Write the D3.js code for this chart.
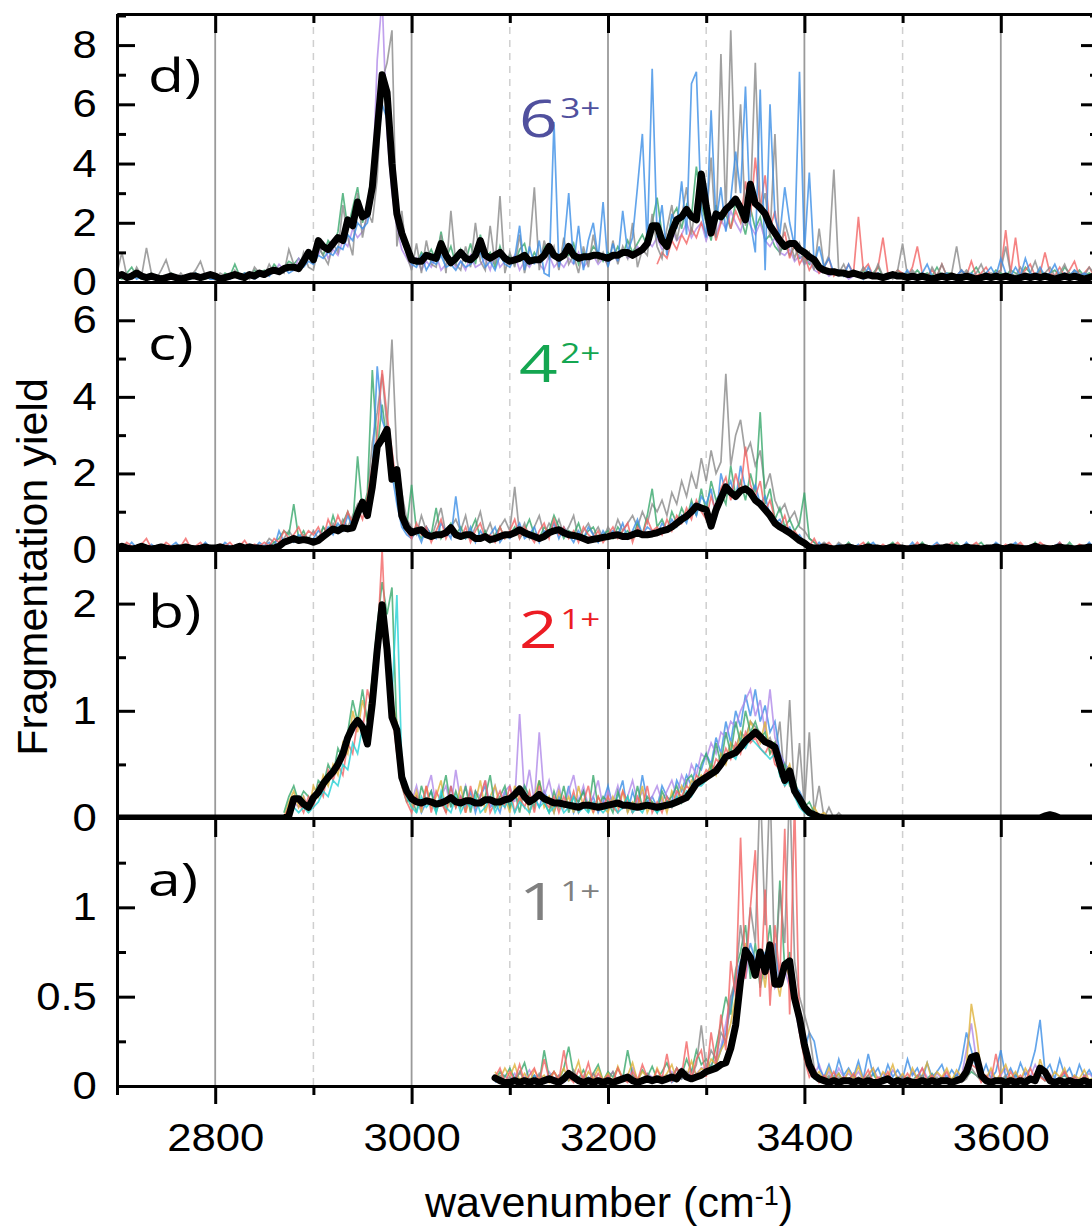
<!DOCTYPE html>
<html>
<head>
<meta charset="utf-8">
<script src="https://cdn.jsdelivr.net/npm/d3@7"></script>
<style>
  body { margin: 0; background: #fff; }
  text { font-family: "Liberation Sans", Arial, sans-serif; }
</style>
</head>
<body>
<script>
// sampling step of every series (cm-1)
var step = 5;

// ---- panel d) 6(3+), all series start at 2700 ----
var dBlack = [
  0.2,0.25,0.15,0.2,0.3,0.2,0.15,0.2,0.15,0.1,
  0.15,0.2,0.15,0.1,0.15,0.2,0.2,0.15,0.2,0.25,
  0.2,0.1,0.15,0.2,0.25,0.2,0.15,0.25,0.2,0.3,
  0.25,0.35,0.4,0.35,0.45,0.5,0.5,0.45,0.7,1.0,
  0.75,1.4,1.2,1.1,1.3,1.5,1.4,2.1,1.9,2.7,
  2.2,2.3,3.2,5.1,7.0,6.4,4.0,2.3,1.65,1.2,
  0.75,0.7,0.7,0.9,0.85,0.8,1.3,0.9,0.65,0.8,
  1.0,0.8,0.75,0.9,1.4,0.9,0.8,0.9,1.0,0.8,
  0.7,0.75,0.8,0.9,0.7,0.75,0.75,0.9,1.2,0.9,
  0.8,0.9,1.2,0.9,0.8,0.85,0.85,0.9,0.9,0.85,
  0.8,0.9,0.9,1.0,1.0,0.9,1.0,1.1,1.3,1.9,
  1.9,1.4,1.2,1.7,2.1,2.2,2.45,2.2,2.1,3.65,
  2.55,1.65,2.3,2.2,2.45,2.6,2.8,2.5,2.1,3.3,
  2.65,2.5,2.3,1.9,1.65,1.4,1.2,1.3,1.3,1.1,
  1.0,0.85,0.75,0.5,0.4,0.35,0.35,0.3,0.3,0.25,
  0.3,0.25,0.2,0.25,0.2,0.2,0.15,0.2,0.25,0.2,
  0.2,0.15,0.2,0.15,0.2,0.15,0.1,0.15,0.2,0.15,
  0.2,0.15,0.15,0.2,0.15,0.1,0.15,0.2,0.15,0.2,
  0.15,0.2,0.15,0.1,0.15,0.2,0.15,0.2,0.15,0.2,
  0.15,0.1,0.15,0.2,0.15,0.2,0.15,0.1,0.15,0.2,
  0.15];
var dGray = [
  0.3,1.0,0.2,0.1,0.5,0.2,1.15,0.3,0.1,0.4,
  0.75,0.2,0.1,0.3,0.1,0.2,0.4,0.7,0.2,0.1,
  0.1,0.3,0.2,0.1,0.4,0.2,0.3,0.1,0.5,0.3,
  0.2,0.6,0.3,0.4,0.3,1.1,0.6,0.4,1.0,0.5,
  0.4,1.2,0.9,0.6,1.3,1.0,2.6,1.5,0.9,3.0,
  1.5,2.4,2.0,3.5,6.8,7.4,8.5,1.2,2.4,0.9,
  0.4,1.3,0.3,1.4,0.6,0.5,1.6,0.3,2.4,0.6,
  0.4,1.2,0.5,2.0,0.7,0.4,1.9,0.6,2.9,0.3,
  1.0,0.5,1.6,0.3,1.1,3.2,0.4,1.4,0.8,1.2,
  0.4,1.5,0.6,0.9,0.3,1.2,0.5,1.6,0.7,1.0,
  0.5,1.4,0.6,1.2,0.8,2.0,0.5,1.1,0.9,2.3,
  1.2,0.8,1.8,2.6,1.4,2.2,3.2,1.6,2.8,3.0,
  2.0,4.2,1.5,7.7,2.2,8.5,3.0,6.0,1.9,2.6,
  7.4,2.4,3.0,1.5,5.0,0.9,2.0,1.4,0.8,1.3,
  0.6,1.0,0.4,1.8,0.5,0.9,3.8,0.3,0.6,0.2,
  0.4,0.2,0.5,0.3,0.2,0.6,0.2,0.3,0.1,0.4,
  1.3,0.2,0.4,0.2,0.3,0.1,0.5,0.2,0.6,0.2,
  0.3,1.2,0.2,0.4,0.2,0.3,0.6,0.2,0.3,0.2,
  0.4,1.2,0.3,0.2,0.5,0.2,0.3,0.7,0.2,0.3,
  0.5,0.2,0.3,0.6,0.2,0.4,0.3,0.2,0.5,0.3,
  0.2];
var dBlue = [
  0.1,0.2,0.1,0.3,0.1,0.2,0.1,0.1,0.2,0.1,
  0.2,0.1,0.1,0.2,0.1,0.1,0.3,0.1,0.2,0.1,
  0.1,0.2,0.1,0.1,0.2,0.1,0.3,0.2,0.1,0.2,
  0.3,0.2,0.4,0.3,0.5,0.3,0.4,0.6,0.5,0.7,
  0.6,0.9,0.8,1.0,0.9,1.2,1.1,1.6,1.4,2.0,
  1.8,2.0,2.8,4.5,6.0,5.5,3.5,2.0,1.4,1.0,
  0.6,0.5,0.9,0.4,0.7,0.6,0.9,0.5,0.6,0.4,
  0.7,0.5,0.6,0.8,1.0,0.5,0.7,0.4,0.9,0.6,
  0.5,0.8,1.9,0.4,1.2,0.6,1.4,0.3,0.2,5.4,
  0.5,1.2,3.0,0.6,1.9,0.4,1.4,2.0,0.8,2.7,
  0.5,1.3,0.7,2.4,1.0,1.5,3.2,5.0,1.2,7.2,
  1.5,2.6,0.9,2.3,1.8,3.4,1.6,6.7,7.1,2.4,
  1.5,5.8,2.0,3.2,1.7,2.8,4.4,3.0,6.6,2.0,
  1.0,6.5,0.4,6.0,2.2,1.6,3.2,2.0,1.2,7.1,
  1.0,3.7,0.6,1.2,0.5,0.8,0.3,0.4,0.2,0.6,
  0.2,0.3,0.1,0.5,0.2,0.3,0.2,0.1,0.3,0.2,
  0.2,0.4,0.1,0.2,0.3,0.6,0.2,0.1,0.2,0.3,
  0.1,0.2,0.4,0.2,0.3,0.1,0.2,0.3,0.5,0.2,
  0.8,0.3,0.2,0.5,0.2,0.8,0.3,0.2,0.5,0.2,
  0.3,0.6,0.2,0.3,0.2,0.4,0.2,0.3,0.2,0.3,
  0.2];
var dGreen = [
  0.2,0.1,0.3,0.5,0.2,0.1,0.2,0.3,0.1,0.2,
  0.1,0.3,0.2,0.1,0.2,0.1,0.3,0.2,0.1,0.2,
  0.2,0.1,0.3,0.2,0.6,0.2,0.3,0.2,0.4,0.3,
  0.4,0.3,0.6,0.4,0.5,0.7,0.6,0.8,0.6,0.9,
  1.0,1.2,0.9,1.4,1.2,1.7,3.0,1.8,2.5,3.2,
  2.0,2.6,3.8,5.8,6.4,6.0,4.2,2.4,1.7,1.3,
  0.9,0.6,1.0,0.8,1.1,0.7,1.7,0.8,1.2,0.6,
  1.1,0.7,1.3,0.6,1.6,0.8,1.0,0.5,1.2,0.7,
  0.9,0.6,1.1,1.3,0.6,1.0,0.7,1.2,0.8,1.0,
  0.7,1.1,0.9,1.3,0.6,1.0,0.8,1.2,1.0,0.7,
  1.0,0.8,1.2,0.9,1.4,1.0,1.3,1.6,1.2,2.0,
  2.85,1.6,1.3,2.2,2.5,1.8,2.6,2.2,3.9,2.6,
  2.0,1.4,2.6,2.0,2.3,1.8,2.7,2.2,1.6,2.5,
  1.8,2.2,1.4,1.6,1.2,1.0,1.3,0.9,1.2,0.8,
  0.9,0.6,0.8,0.4,0.5,0.3,0.4,0.2,0.3,0.2,
  0.3,0.2,0.4,0.2,0.3,0.5,0.2,0.3,0.2,0.4,
  0.2,0.3,0.2,0.4,0.2,0.3,0.2,0.5,0.2,0.3,
  0.3,0.2,0.4,0.2,0.3,0.5,0.2,0.3,0.2,0.4,
  0.3,0.2,0.4,0.3,0.2,0.5,0.3,0.2,0.4,0.2,
  0.3,0.4,0.2,0.5,0.3,0.2,0.4,0.2,0.3,0.2,
  0.3];
// starts at 2850
var dPurple = [
  0.2,0.4,0.3,0.6,0.4,0.5,0.4,0.8,0.6,1.0,
  0.7,0.9,1.3,0.8,1.1,0.9,1.4,1.2,1.8,1.5,
  1.7,2.2,3.0,7.5,9.6,5.0,3.0,1.8,1.1,0.8,
  0.5,0.8,0.4,0.7,0.5,0.9,0.4,0.6,0.8,0.5,
  0.7,0.4,0.9,0.5,0.6,0.8,0.4,1.0,0.5,0.7,
  0.6,0.9,0.4,0.7,0.5,0.8,0.6,0.4,0.9,0.5,
  0.7,0.5,0.8,0.6,1.0,0.5,0.7,0.9,0.6,0.8,
  0.6,0.9,0.7,1.1,0.8,0.9,1.2,1.0,1.4,1.2,
  1.5,1.1,1.3,1.8,1.4,1.6,2.0,1.5,1.8,2.0,
  1.4,1.9,1.6,2.1,1.8,2.4,2.0,1.7,2.3,1.9,
  1.6,2.0,1.4,1.2,1.5,1.0,0.9,1.1,0.7,0.9,
  0.6,0.7,0.4,0.3,0.4,0.2,0.3,0.2,0.3,0.1,
  0.2];
// starts at 3250
var dRed = [
  0.6,1.0,0.8,1.4,1.1,1.6,1.3,1.8,1.5,2.0,
  1.6,2.2,1.4,2.0,2.6,1.8,2.4,2.0,3.4,2.2,
  4.2,2.5,3.6,1.8,2.4,1.2,1.7,0.8,1.3,0.6,
  0.9,0.4,0.7,0.3,0.5,0.8,0.2,0.4,0.3,0.6,
  0.3,2.2,0.4,0.6,0.2,0.5,1.5,0.3,0.2,0.4,
  0.3,0.2,0.5,1.2,0.3,0.2,0.4,0.2,0.6,0.2,
  0.3,0.2,0.4,0.2,0.7,0.2,0.3,0.5,0.2,0.3,
  0.4,1.75,0.3,1.5,0.2,0.4,0.6,0.2,0.3,1.0,
  0.3,0.2,0.5,0.2,0.4,0.7,0.2,0.3,0.5,0.2,
  0.3];

// ---- panel c) 4(2+), start at 2700 ----
var cBlack = [
  0.05,0.1,0.05,0.03,0.05,0.1,0.05,0.03,0.05,0.08,
  0.05,0.03,0.05,0.05,0.08,0.05,0.03,0.05,0.08,0.05,
  0.05,0.08,0.05,0.03,0.05,0.1,0.05,0.08,0.05,0.05,
  0.03,0.05,0.05,0.1,0.2,0.25,0.3,0.25,0.27,0.25,
  0.2,0.25,0.35,0.45,0.55,0.5,0.58,0.55,0.58,0.95,
  1.25,0.9,1.65,2.7,2.9,3.15,1.85,2.1,0.9,0.6,
  0.45,0.5,0.53,0.4,0.35,0.4,0.4,0.45,0.58,0.4,
  0.35,0.4,0.4,0.3,0.3,0.35,0.27,0.3,0.35,0.4,
  0.4,0.45,0.53,0.45,0.4,0.35,0.3,0.35,0.45,0.5,
  0.53,0.45,0.4,0.38,0.35,0.3,0.25,0.28,0.3,0.33,
  0.35,0.38,0.4,0.35,0.35,0.4,0.45,0.4,0.4,0.42,
  0.45,0.5,0.53,0.6,0.7,0.8,0.88,1.0,1.15,1.1,
  1.05,0.62,1.05,1.35,1.65,1.5,1.4,1.55,1.6,1.5,
  1.3,1.2,1.05,0.9,0.7,0.6,0.53,0.45,0.35,0.25,
  0.18,0.08,0.05,0.05,0.08,0.05,0.03,0.05,0.05,0.08,
  0.05,0.03,0.05,0.08,0.05,0.05,0.03,0.05,0.08,0.05,
  0.05,0.03,0.05,0.05,0.08,0.05,0.03,0.05,0.05,0.08,
  0.05,0.05,0.03,0.08,0.05,0.05,0.03,0.05,0.05,0.08,
  0.05,0.03,0.08,0.05,0.05,0.03,0.05,0.1,0.05,0.05,
  0.03,0.05,0.08,0.05,0.05,0.03,0.05,0.05,0.08,0.05,
  0.05];
var cRed = [
  0.1,0.05,0.2,0.1,0.05,0.15,0.3,0.05,0.1,0.05,
  0.2,0.1,0.05,0.1,0.3,0.05,0.1,0.2,0.05,0.1,
  0.05,0.15,0.1,0.2,0.05,0.1,0.25,0.05,0.15,0.1,
  0.2,0.1,0.3,0.2,0.5,0.3,0.4,0.6,0.3,0.5,
  0.4,0.6,0.3,0.8,0.5,0.9,0.6,1.0,0.7,1.1,
  0.8,1.4,2.2,3.0,4.7,3.5,2.6,1.6,0.8,0.5,
  0.3,0.7,0.4,0.6,0.2,0.5,0.8,0.3,0.6,0.4,
  0.3,0.6,0.2,0.5,0.7,0.3,0.4,0.2,0.6,0.3,
  0.5,0.8,0.3,0.6,0.4,0.2,0.5,0.7,0.3,0.8,
  0.4,0.6,0.3,0.5,0.2,0.6,0.4,0.3,0.5,0.2,
  0.4,0.6,0.3,0.5,0.7,0.2,0.6,0.4,0.8,0.5,
  0.6,0.4,0.8,0.5,0.9,0.7,1.1,0.8,1.3,1.0,
  0.8,1.4,1.0,1.6,1.9,1.3,2.0,1.5,2.7,1.7,
  1.4,1.8,1.0,1.3,0.8,0.6,0.9,0.4,0.5,0.3,
  0.2,0.1,0.3,0.05,0.1,0.2,0.05,0.1,0.05,0.15,
  0.05,0.1,0.2,0.05,0.1,0.05,0.15,0.05,0.1,0.2,
  0.05,0.1,0.05,0.2,0.05,0.1,0.05,0.15,0.05,0.1,
  0.2,0.05,0.1,0.05,0.1,0.2,0.05,0.1,0.05,0.1,
  0.05,0.15,0.05,0.1,0.2,0.05,0.1,0.05,0.2,0.1,
  0.1,0.05,0.2,0.05,0.1,0.05,0.15,0.1,0.05,0.1,
  0.05];
var cBlue = [
  0.05,0.1,0.05,0.2,0.05,0.1,0.05,0.15,0.05,0.1,
  0.05,0.1,0.2,0.05,0.1,0.05,0.1,0.05,0.2,0.05,
  0.1,0.05,0.2,0.1,0.05,0.1,0.05,0.15,0.05,0.2,
  0.1,0.2,0.05,0.5,0.2,0.3,0.2,0.4,0.3,0.2,
  0.3,0.5,0.4,0.6,0.4,0.7,0.5,0.9,0.6,1.0,
  1.2,0.9,2.0,4.8,3.4,3.0,2.0,1.2,0.6,0.4,
  0.3,0.5,0.2,0.6,0.4,0.3,0.7,0.5,0.3,1.4,
  0.4,0.3,0.6,0.2,0.5,0.3,0.4,0.6,0.2,0.4,
  0.3,0.5,0.7,0.3,0.4,0.6,0.2,0.5,0.4,0.7,
  0.3,0.6,0.4,0.2,0.5,0.3,0.6,0.4,0.2,0.5,
  0.3,0.5,0.4,0.7,0.3,0.5,0.8,0.4,0.6,0.5,
  0.4,0.7,0.5,0.8,0.6,0.9,0.7,1.2,0.9,1.4,
  1.2,1.6,0.8,2.0,1.5,1.8,1.3,2.2,1.6,1.4,
  1.7,1.2,1.4,0.9,0.7,0.8,0.5,0.6,0.3,0.4,
  0.2,0.1,0.05,0.2,0.05,0.1,0.05,0.15,0.05,0.1,
  0.05,0.15,0.05,0.1,0.2,0.05,0.1,0.05,0.1,0.05,
  0.1,0.05,0.2,0.05,0.1,0.05,0.1,0.2,0.05,0.1,
  0.05,0.1,0.05,0.2,0.05,0.1,0.05,0.1,0.05,0.2,
  0.1,0.05,0.1,0.2,0.05,0.1,0.05,0.15,0.05,0.1,
  0.05,0.1,0.2,0.05,0.1,0.05,0.1,0.05,0.2,0.05,
  0.1];
var cGreen = [
  0.05,0.1,0.05,0.05,0.1,0.05,0.1,0.05,0.05,0.1,
  0.05,0.05,0.1,0.05,0.1,0.05,0.05,0.1,0.05,0.05,
  0.1,0.05,0.05,0.1,0.05,0.1,0.05,0.1,0.05,0.1,
  0.05,0.1,0.2,0.3,0.5,0.4,1.2,0.3,0.5,0.2,
  0.3,0.2,0.6,0.4,0.9,0.5,0.7,1.0,0.6,2.45,
  1.0,1.5,4.7,2.6,3.8,2.8,2.2,1.5,0.9,0.6,
  1.7,0.5,0.3,0.6,0.4,1.1,0.3,0.5,0.7,0.4,
  0.6,0.3,0.5,0.8,0.3,0.5,0.2,0.4,0.6,0.3,
  0.4,0.6,0.3,0.5,0.8,0.4,0.3,0.6,0.5,0.9,
  0.6,0.3,0.5,0.4,0.7,0.3,0.5,0.6,0.3,0.4,
  0.5,0.3,0.6,0.4,0.5,0.3,0.7,0.4,0.9,1.6,
  0.6,0.8,0.5,1.0,0.7,1.1,0.8,1.3,0.9,1.6,
  1.0,1.8,1.3,1.5,1.2,2.2,1.4,1.8,1.3,2.0,
  1.5,3.6,1.2,1.6,0.8,1.1,0.6,0.8,0.5,0.7,
  1.5,0.3,0.2,0.1,0.05,0.1,0.05,0.1,0.05,0.2,
  0.05,0.1,0.05,0.2,0.05,0.1,0.05,0.1,0.2,0.05,
  0.1,0.05,0.1,0.05,0.2,0.05,0.1,0.05,0.1,0.05,
  0.1,0.2,0.05,0.1,0.05,0.1,0.2,0.05,0.1,0.05,
  0.05,0.1,0.05,0.15,0.05,0.1,0.05,0.2,0.05,0.1,
  0.1,0.05,0.1,0.05,0.2,0.05,0.1,0.05,0.1,0.05,
  0.1];
// starts at 2850
var cGray = [
  0.1,0.3,0.2,0.1,0.3,0.5,0.3,0.2,0.4,0.3,
  0.5,0.3,0.6,0.4,0.7,0.5,0.8,0.6,0.9,1.2,
  1.0,1.4,2.8,3.6,4.6,3.2,5.5,2.4,1.5,0.8,
  0.6,0.4,0.9,0.5,0.3,0.7,1.1,0.4,0.6,0.8,
  0.5,0.9,0.3,0.6,1.0,0.4,0.7,0.3,0.6,0.8,
  0.5,1.65,0.4,0.7,0.3,0.6,0.9,0.4,0.7,0.5,
  0.8,0.4,0.6,0.9,0.3,0.5,0.7,0.4,0.6,0.3,
  0.6,0.4,0.8,0.5,0.7,0.9,0.6,1.0,0.7,1.2,
  1.0,1.3,0.9,1.5,1.2,1.8,1.4,2.0,1.6,2.4,
  1.8,2.6,2.0,2.3,4.6,2.2,3.0,3.4,2.5,2.8,
  2.2,2.6,1.6,2.0,1.3,1.0,1.2,0.8,1.0,0.6,
  0.5,0.3,0.2,0.1,0.2,0.1,0.05,0.2,0.1,0.05,
  0.1];

// ---- panel b) 2(1+) ----
// black starts at 2700
var bBlack = [
  0,0,0,0,0,0,0,0,0,0,
  0,0,0,0,0,0,0,0,0,0,
  0,0,0,0,0,0,0,0,0,0,
  0,0,0,0,0,0.02,0.18,0.18,0.13,0.1,
  0.19,0.24,0.32,0.38,0.43,0.5,0.6,0.75,0.85,0.91,
  0.85,0.69,1.07,1.57,1.99,1.57,0.94,0.82,0.38,0.25,
  0.18,0.15,0.14,0.16,0.15,0.13,0.14,0.16,0.19,0.15,
  0.14,0.16,0.16,0.14,0.14,0.17,0.17,0.15,0.15,0.17,
  0.18,0.22,0.27,0.2,0.15,0.18,0.22,0.18,0.16,0.14,
  0.14,0.13,0.12,0.11,0.1,0.12,0.12,0.11,0.1,0.11,
  0.12,0.13,0.14,0.12,0.12,0.11,0.1,0.11,0.12,0.11,
  0.1,0.11,0.12,0.13,0.15,0.17,0.19,0.25,0.32,0.35,
  0.38,0.41,0.44,0.5,0.57,0.59,0.61,0.66,0.72,0.76,
  0.8,0.76,0.71,0.69,0.66,0.5,0.35,0.44,0.25,0.18,
  0.1,0.05,0.03,0.01,0,0,0,0,0,0,
  0,0,0,0,0,0,0,0,0,0,
  0,0,0,0,0,0,0,0,0,0,
  0,0,0,0,0,0,0,0,0,0,
  0,0,0,0,0,0,0,0,0,0.02,
  0.03,0.02,0,0,0,0,0,0,0,0,
  0];
// coloured scans start at 2870
var bGold = [
  0.0,0.15,0.25,0.1,0.2,0.05,
  0.3,0.2,0.4,0.3,0.5,0.4,0.7,0.6,1.0,0.8,
  1.1,0.9,1.3,1.6,1.8,1.4,1.1,0.9,0.4,0.2,
  0.1,0.25,0.05,0.3,0.1,0.2,0.35,0.05,0.2,0.1,
  0.3,0.05,0.2,0.15,0.35,0.05,0.2,0.3,0.1,0.2,
  0.05,0.3,0.15,0.25,0.05,0.2,0.35,0.1,0.2,0.05,
  0.25,0.1,0.2,0.05,0.3,0.1,0.15,0.05,0.2,0.1,
  0.05,0.2,0.1,0.25,0.05,0.15,0.1,0.3,0.05,0.15,
  0.1,0.2,0.05,0.25,0.15,0.3,0.2,0.35,0.3,0.4,
  0.35,0.5,0.4,0.6,0.5,0.7,0.6,0.8,0.7,0.9,
  0.8,0.7,0.9,0.6,0.7,0.5,0.4,0.5,0.3,0.2,
  0.15,0.05,0.1,0.02,0.05,0.0,0.02,0.0,0.0,0.0,
  0.0,0.0,0.0,0.0,0.0];
var bGreen = [
  0.05,0.2,0.3,0.15,0.25,0.2,
  0.15,0.35,0.3,0.5,0.4,0.65,0.55,0.8,1.1,0.9,
  1.2,0.9,1.3,1.8,2.2,1.9,2.15,0.8,0.3,0.15,
  0.2,0.05,0.3,0.15,0.25,0.05,0.2,0.4,0.1,0.25,
  0.1,0.3,0.05,0.25,0.15,0.2,0.4,0.1,0.2,0.3,
  0.1,0.25,0.05,0.3,0.2,0.1,0.35,0.15,0.05,0.25,
  0.1,0.3,0.05,0.2,0.15,0.25,0.05,0.4,0.1,0.2,
  0.15,0.05,0.25,0.1,0.2,0.05,0.3,0.1,0.2,0.15,
  0.05,0.25,0.15,0.2,0.3,0.15,0.35,0.4,0.3,0.5,
  0.6,0.45,0.7,0.5,0.8,0.6,0.9,0.7,1.0,0.8,
  0.9,0.75,0.8,0.6,0.7,0.4,0.5,0.3,0.35,0.2,
  0.1,0.15,0.05,0.02,0.0,0.0,0.0,0.0,0.0,0.0,
  0.0,0.0,0.0,0.0,0.0];
var bRed = [
  0.0,0.1,0.2,0.15,0.05,0.2,
  0.1,0.3,0.2,0.45,0.35,0.5,0.4,0.7,0.6,0.9,
  0.8,1.2,1.0,1.6,2.5,1.4,1.0,0.6,0.3,0.15,
  0.05,0.2,0.1,0.3,0.05,0.25,0.15,0.05,0.3,0.1,
  0.2,0.05,0.3,0.1,0.2,0.35,0.05,0.15,0.25,0.1,
  0.3,0.05,0.2,0.1,0.25,0.05,0.3,0.15,0.1,0.2,
  0.05,0.2,0.1,0.25,0.05,0.15,0.3,0.05,0.2,0.1,
  0.2,0.1,0.05,0.25,0.15,0.05,0.2,0.1,0.3,0.05,
  0.15,0.05,0.2,0.1,0.25,0.2,0.3,0.25,0.4,0.35,
  0.45,0.4,0.55,0.5,0.65,0.55,0.7,0.6,0.8,0.7,
  0.75,0.65,0.6,0.7,0.5,0.45,0.3,0.4,0.2,0.15,
  0.1,0.05,0.02,0.0,0.0,0.0,0.0,0.0,0.0,0.0,
  0.0,0.0,0.0,0.0,0.0];
var bCyan = [
  0.0,0.05,0.1,0.05,0.1,0.05,
  0.1,0.15,0.25,0.2,0.35,0.3,0.5,0.45,0.7,0.6,
  0.85,0.7,1.0,1.5,1.9,1.6,1.1,2.08,0.5,0.2,
  0.1,0.05,0.2,0.1,0.15,0.05,0.25,0.1,0.05,0.2,
  0.05,0.15,0.1,0.2,0.05,0.1,0.2,0.05,0.15,0.1,
  0.2,0.05,0.15,0.1,0.05,0.2,0.1,0.15,0.05,0.1,
  0.15,0.05,0.1,0.2,0.05,0.1,0.05,0.15,0.1,0.05,
  0.1,0.15,0.05,0.1,0.2,0.05,0.1,0.05,0.15,0.1,
  0.05,0.1,0.15,0.1,0.2,0.15,0.25,0.2,0.3,0.3,
  0.35,0.4,0.45,0.5,0.55,0.6,0.55,0.7,0.65,0.75,
  0.7,0.65,0.6,0.55,0.6,0.4,0.3,0.35,0.2,0.1,
  0.05,0.02,0.0,0.0,0.0,0.0,0.0,0.0,0.0,0.0,
  0.0,0.0,0.0,0.0,0.0];
var bPurple = [
  0.0,0.1,0.15,0.1,0.2,0.1,
  0.2,0.25,0.3,0.4,0.45,0.55,0.6,0.7,0.8,0.85,
  0.9,0.8,1.1,1.5,1.8,1.5,1.0,0.7,0.35,0.2,
  0.15,0.3,0.1,0.25,0.4,0.1,0.2,0.3,0.1,0.45,
  0.15,0.3,0.1,0.25,0.2,0.35,0.1,0.3,0.15,0.25,
  0.3,0.15,0.97,0.2,0.45,0.15,0.8,0.2,0.35,0.15,
  0.3,0.1,0.25,0.4,0.15,0.3,0.1,0.2,0.35,0.1,
  0.25,0.15,0.3,0.1,0.2,0.35,0.15,0.25,0.1,0.2,
  0.3,0.15,0.25,0.35,0.2,0.4,0.3,0.5,0.4,0.6,
  0.55,0.7,0.6,0.8,0.75,0.9,0.85,1.0,1.1,1.2,
  0.95,1.1,0.8,1.2,0.75,0.6,0.5,0.4,0.3,0.2,
  0.1,0.05,0.02,0.0,0.0,0.0,0.0,0.0,0.0,0.0,
  0.0,0.0,0.0,0.0,0.0];
// starts at 3000
var bBlue = [
  0.1,0.2,0.05,0.15,0.25,0.1,0.2,0.05,0.3,0.1,
  0.2,0.1,0.25,0.05,0.2,0.3,0.1,0.15,0.05,0.25,
  0.1,0.2,0.15,0.3,0.05,0.2,0.1,0.25,0.15,0.05,
  0.2,0.1,0.3,0.05,0.15,0.25,0.1,0.2,0.05,0.15,
  0.3,0.1,0.2,0.35,0.05,0.25,0.1,0.4,0.15,0.2,
  0.1,0.3,0.2,0.15,0.35,0.25,0.4,0.3,0.5,0.45,
  0.6,0.5,0.75,0.6,0.9,0.7,1.0,0.85,1.15,0.95,
  1.2,0.9,1.05,0.8,0.9,0.6,0.5,0.45,0.3,0.25,
  0.15,0.05,0.02,0.0,0.0];
// starts at 3300
var bGray = [
  0.4,0.5,0.45,0.6,0.55,0.7,0.65,0.8,0.75,0.9,
  0.85,0.8,0.7,0.75,0.6,0.9,0.3,1.1,0.2,0.7,
  0.1,0.8,0.05,0.3,0.0,0.1,0.0,0.05,0.0];

// ---- panel a) 1(1+), all series start at 3085 ----
var aBlack = [
  0.045,0.03,0.02,
  0.02,0.03,0.02,0.03,0.02,0.03,0.02,0.03,0.04,0.03,
  0.02,0.04,0.07,0.05,0.03,0.02,0.03,0.02,0.03,0.02,
  0.03,0.02,0.03,0.04,0.05,0.03,0.02,0.03,0.04,0.03,
  0.04,0.03,0.04,0.05,0.04,0.08,0.05,0.04,0.05,0.06,
  0.08,0.09,0.1,0.12,0.13,0.21,0.34,0.59,0.76,0.72,
  0.62,0.75,0.64,0.79,0.57,0.57,0.68,0.7,0.49,0.38,
  0.23,0.12,0.06,0.04,0.03,0.02,0.03,0.02,0.03,0.03,
  0.02,0.03,0.02,0.03,0.02,0.02,0.03,0.04,0.02,0.03,
  0.02,0.03,0.02,0.02,0.03,0.02,0.03,0.02,0.03,0.03,
  0.02,0.03,0.04,0.08,0.16,0.17,0.06,0.03,0.02,0.03,
  0.03,0.02,0.03,0.02,0.03,0.02,0.04,0.03,0.1,0.08,
  0.03,0.02,0.03,0.02,0.03,0.02,0.02,0.03,0.02,0.02,
  0.02];
var aRed = [
  0.05,0.1,0.02,
  0.08,0.03,0.12,0.02,0.06,0.1,0.02,0.15,0.04,0.08,
  0.03,0.2,0.05,0.02,0.09,0.04,0.13,0.02,0.07,0.03,
  0.06,0.02,0.1,0.04,0.02,0.08,0.03,0.12,0.05,0.02,
  0.09,0.04,0.18,0.03,0.1,0.06,0.25,0.04,0.15,0.2,
  0.05,0.3,0.12,0.4,0.2,0.7,0.5,1.39,0.6,1.0,
  1.32,0.5,1.1,0.45,0.9,0.6,1.44,0.4,1.6,0.3,
  0.15,0.05,0.1,0.02,0.06,0.03,0.08,0.02,0.05,0.03,
  0.07,0.02,0.04,0.09,0.02,0.05,0.03,0.08,0.02,0.04,
  0.03,0.07,0.02,0.05,0.1,0.03,0.06,0.02,0.04,0.08,
  0.02,0.05,0.03,0.07,0.12,0.1,0.02,0.06,0.03,0.18,
  0.04,0.02,0.08,0.03,0.06,0.02,0.1,0.04,0.05,0.03,
  0.06,0.02,0.04,0.08,0.03,0.05,0.02,0.06,0.03,0.04,
  0.02];
var aGray = [
  0.03,0.06,0.02,
  0.05,0.02,0.08,0.03,0.04,0.02,0.07,0.03,0.05,0.02,
  0.06,0.03,0.04,0.09,0.02,0.05,0.03,0.07,0.02,0.04,
  0.03,0.08,0.02,0.05,0.03,0.06,0.02,0.04,0.07,0.03,
  0.05,0.02,0.06,0.03,0.1,0.04,0.08,0.05,0.12,0.34,
  0.1,0.2,0.15,0.3,0.25,0.5,0.6,0.9,0.7,1.0,
  0.8,1.7,0.9,1.7,0.6,1.1,0.8,1.7,0.7,0.5,
  0.4,0.3,0.1,0.05,0.03,0.06,0.02,0.05,0.03,0.04,
  0.02,0.05,0.03,0.06,0.02,0.04,0.03,0.05,0.02,0.03,
  0.05,0.02,0.04,0.03,0.06,0.02,0.03,0.05,0.02,0.04,
  0.03,0.05,0.02,0.04,0.1,0.06,0.03,0.05,0.02,0.04,
  0.03,0.06,0.02,0.04,0.03,0.05,0.02,0.04,0.06,0.03,
  0.04,0.02,0.05,0.03,0.02,0.04,0.03,0.05,0.02,0.03,
  0.02];
var aGold = [
  0.08,0.04,0.1,
  0.05,0.12,0.03,0.07,0.02,0.09,0.04,0.06,0.02,0.08,
  0.04,0.1,0.03,0.06,0.14,0.02,0.08,0.04,0.1,0.03,
  0.07,0.02,0.11,0.04,0.06,0.13,0.03,0.08,0.05,0.02,
  0.1,0.04,0.07,0.12,0.03,0.08,0.05,0.14,0.06,0.1,
  0.08,0.15,0.12,0.2,0.25,0.35,0.5,0.65,0.8,0.7,
  0.6,0.75,0.55,0.8,0.65,0.5,0.7,0.6,0.45,0.35,
  0.2,0.1,0.05,0.08,0.03,0.1,0.04,0.07,0.02,0.09,
  0.04,0.11,0.03,0.06,0.1,0.02,0.08,0.05,0.12,0.03,
  0.07,0.02,0.1,0.04,0.06,0.13,0.03,0.08,0.05,0.1,
  0.03,0.09,0.05,0.12,0.46,0.3,0.08,0.04,0.1,0.03,
  0.07,0.12,0.04,0.08,0.03,0.1,0.05,0.02,0.15,0.06,
  0.03,0.08,0.05,0.1,0.02,0.06,0.04,0.09,0.03,0.05,
  0.04];
var aBlue = [
  0.02,0.04,0.02,
  0.03,0.05,0.02,0.04,0.02,0.06,0.03,0.02,0.05,0.03,
  0.02,0.04,0.03,0.06,0.02,0.03,0.05,0.02,0.04,0.03,
  0.05,0.02,0.04,0.03,0.06,0.02,0.04,0.03,0.05,0.02,
  0.04,0.03,0.06,0.02,0.05,0.04,0.07,0.03,0.06,0.05,
  0.08,0.1,0.12,0.2,0.3,0.45,0.6,0.7,0.65,0.8,
  0.7,0.6,0.75,0.65,0.8,0.55,0.7,0.6,0.5,0.4,
  0.2,0.3,0.25,0.1,0.05,0.12,0.04,0.15,0.06,0.1,
  0.05,0.14,0.04,0.18,0.06,0.1,0.03,0.12,0.05,0.09,
  0.04,0.15,0.06,0.1,0.03,0.13,0.05,0.08,0.12,0.04,
  0.09,0.05,0.14,0.3,0.2,0.1,0.05,0.12,0.04,0.08,
  0.2,0.05,0.1,0.04,0.13,0.06,0.1,0.2,0.37,0.08,
  0.12,0.04,0.15,0.06,0.1,0.03,0.12,0.05,0.09,0.04,
  0.06];
var aGreen = [
  0.03,0.08,0.05,
  0.1,0.04,0.07,0.13,0.03,0.06,0.02,0.2,0.05,0.08,
  0.03,0.1,0.22,0.06,0.04,0.09,0.02,0.07,0.12,0.03,
  0.08,0.05,0.1,0.04,0.2,0.06,0.03,0.09,0.05,0.11,
  0.04,0.08,0.13,0.05,0.1,0.06,0.15,0.08,0.2,0.12,
  0.15,0.1,0.22,0.35,0.5,0.4,0.65,0.75,0.9,0.6,
  0.8,0.55,0.7,0.9,0.6,1.15,0.65,0.75,0.5,0.35,
  0.15,0.08,0.04,0.06,0.02,0.05,0.03,0.07,0.02,0.04,
  0.06,0.02,0.05,0.03,0.07,0.02,0.04,0.06,0.03,0.05,
  0.02,0.05,0.03,0.06,0.02,0.04,0.07,0.03,0.05,0.02,
  0.04,0.06,0.03,0.05,0.08,0.06,0.03,0.05,0.02,0.04,
  0.03,0.05,0.02,0.06,0.04,0.03,0.05,0.02,0.06,0.03,
  0.05,0.02,0.04,0.06,0.03,0.05,0.02,0.04,0.03,0.05,
  0.03];
var aPurple = [
  0.04,0.02,0.06,
  0.03,0.07,0.02,0.05,0.09,0.03,0.06,0.02,0.08,0.04,
  0.06,0.02,0.05,0.08,0.03,0.06,0.02,0.07,0.04,0.03,
  0.05,0.08,0.02,0.06,0.03,0.1,0.04,0.02,0.07,0.05,
  0.03,0.06,0.04,0.08,0.05,0.1,0.06,0.09,0.07,0.1,
  0.1,0.12,0.15,0.22,0.35,0.5,0.55,0.7,0.6,0.75,
  0.65,0.7,0.6,0.75,0.55,0.6,0.65,0.55,0.45,0.3,
  0.2,0.1,0.06,0.12,0.04,0.08,0.03,0.1,0.05,0.07,
  0.04,0.08,0.03,0.06,0.1,0.04,0.07,0.03,0.09,0.05,
  0.06,0.03,0.08,0.04,0.1,0.05,0.03,0.07,0.04,0.06,
  0.03,0.07,0.05,0.2,0.35,0.15,0.06,0.04,0.08,0.03,
  0.06,0.1,0.04,0.07,0.03,0.08,0.05,0.12,0.06,0.04,
  0.07,0.03,0.05,0.08,0.04,0.06,0.03,0.05,0.07,0.04,
  0.05];

// axis ticks and labels
var xMajor = [2800, 3000, 3200, 3400, 3600];
var xMinor = [2700, 2900, 3100, 3300, 3500, 3700];
var panelLetters = ["d)", "c)", "b)", "a)"];
var species = ["6", "4", "2", "1"];
var charges = ["3+", "2+", "1+", "1+"];
var yMax = [9.05, 7, 2.5, 1.5];
var yMajor = [[0, 2, 4, 6, 8], [0, 2, 4, 6], [0, 1, 2], [0, 0.5, 1]];
var yMinor = [[1, 3, 5, 7, 9], [1, 3, 5, 7], [0.5, 1.5, 2.5], [0.25, 0.75, 1.25]];

// colours
var col = {
  red: "#f26464", blue: "#3c8ee6", green: "#38a86c", purple: "#b08ae8",
  gray: "#8a8a8a", gold: "#dfb23a", cyan: "#25d2d6"
};
var speciesColor = ["#50509e", "#14a651", "#ec1c24", "#808080"];

var panels = [
  { black: dBlack, blackStart: 2700, labelDy: 123, traces: [
      [dGreen, 2700, col.green], [dPurple, 2850, col.purple], [dRed, 3250, col.red],
      [dGray, 2700, col.gray], [dBlue, 2700, col.blue]] },
  { black: cBlack, blackStart: 2700, labelDy: 100, traces: [
      [cGray, 2850, col.gray], [cGreen, 2700, col.green], [cBlue, 2700, col.blue], [cRed, 2700, col.red]] },
  { black: bBlack, blackStart: 2700, labelDy: 98, traces: [
      [bGray, 3300, col.gray], [bBlue, 3000, col.blue], [bPurple, 2870, col.purple], [bGold, 2870, col.gold],
      [bGreen, 2870, col.green], [bRed, 2870, col.red], [bCyan, 2870, col.cyan]] },
  { black: aBlack, blackStart: 3085, labelDy: 102, traces: [
      [aPurple, 3085, col.purple], [aGreen, 3085, col.green], [aBlue, 3085, col.blue],
      [aGold, 3085, col.gold], [aGray, 3085, col.gray], [aRed, 3085, col.red]] }
];

var width = 1092, height = 1229;
var left = 117, right = 1099, top0 = 14, panelH = 268;

var svg = d3.select("body").append("svg")
  .attr("width", width)
  .attr("height", height);

var x = d3.scaleLinear().domain([2700, 3700]).range([left, right]);

function toPoints(values, start) {
  return values.map(function (v, i) { return [start + i * step, v]; });
}

panels.forEach(function (p, k) {
  var top = top0 + k * panelH;
  var y = d3.scaleLinear().domain([0, yMax[k]]).range([top + panelH, top]);
  var g = svg.append("g");

  g.append("clipPath").attr("id", "clip" + k)
    .append("rect")
    .attr("x", left).attr("y", top)
    .attr("width", right - left).attr("height", panelH);

  // grid
  g.selectAll(".gmaj").data(xMajor).enter().append("line")
    .attr("x1", function (d) { return x(d); }).attr("x2", function (d) { return x(d); })
    .attr("y1", top).attr("y2", top + panelH)
    .attr("stroke", "#9a9a9a").attr("stroke-width", 1.8);
  g.selectAll(".gmin").data(xMinor).enter().append("line")
    .attr("x1", function (d) { return x(d); }).attr("x2", function (d) { return x(d); })
    .attr("y1", top).attr("y2", top + panelH)
    .attr("stroke", "#cfcfcf").attr("stroke-width", 1.5)
    .attr("stroke-dasharray", "7,6");

  var line = d3.line()
    .x(function (d) { return x(d[0]); })
    .y(function (d) { return y(d[1]); });

  var plot = g.append("g").attr("clip-path", "url(#clip" + k + ")");
  p.traces.forEach(function (t) {
    plot.append("path")
      .attr("d", line(toPoints(t[0], t[1])))
      .attr("fill", "none")
      .attr("stroke", t[2])
      .attr("stroke-opacity", 0.8)
      .attr("stroke-width", 1.7);
  });
  plot.append("path")
    .attr("d", line(toPoints(p.black, p.blackStart)))
    .attr("fill", "none")
    .attr("stroke", "#000")
    .attr("stroke-width", 7)
    .attr("stroke-linejoin", "round")
    .attr("stroke-linecap", "round");

  // axes
  var fmt = function (d) { return String(d); };
  var minor = yMinor[k].filter(function (v) { return v < yMax[k]; });
  g.append("g").attr("transform", "translate(" + left + ",0)")
    .call(d3.axisLeft(y).tickValues(yMajor[k]).tickSize(-18).tickSizeOuter(0).tickPadding(18).tickFormat(fmt));
  g.append("g").attr("transform", "translate(" + left + ",0)")
    .call(d3.axisLeft(y).tickValues(minor).tickSize(-9).tickSizeOuter(0).tickFormat(""));
  g.append("g").attr("transform", "translate(" + right + ",0)")
    .call(d3.axisRight(y).tickValues(yMajor[k]).tickSize(-18).tickSizeOuter(0).tickFormat(""));
  g.append("g").attr("transform", "translate(" + right + ",0)")
    .call(d3.axisRight(y).tickValues(minor).tickSize(-9).tickSizeOuter(0).tickFormat(""));
  g.append("g").attr("transform", "translate(0," + top + ")")
    .call(d3.axisTop(x).tickValues(xMajor).tickSize(-19).tickSizeOuter(0).tickFormat(""));
  g.append("g").attr("transform", "translate(0," + top + ")")
    .call(d3.axisTop(x).tickValues(xMinor).tickSize(-9).tickSizeOuter(0).tickFormat(""));

  if (k === panels.length - 1) {
    g.append("g").attr("transform", "translate(0," + (top + panelH) + ")")
      .call(d3.axisBottom(x).tickValues(xMajor).tickSize(18).tickSizeOuter(0).tickPadding(19).tickFormat(fmt));
    g.append("g").attr("transform", "translate(0," + (top + panelH) + ")")
      .call(d3.axisBottom(x).tickValues(xMinor).tickSize(9).tickSizeOuter(0).tickFormat(""));
  }

  g.selectAll(".domain").attr("stroke", "#000").attr("stroke-width", 3);
  g.selectAll(".tick line").attr("stroke", "#000").attr("stroke-width", 3);
  g.selectAll(".tick text")
    .attr("font-family", "'Liberation Sans', Arial, sans-serif")
    .attr("font-size", 39)
    .attr("fill", "#000")
    .attr("transform", "scale(1.12,1)");

  // panel letter
  g.append("text")
    .attr("transform", "translate(148," + (top + 78) + ") scale(1.28,1)")
    .style("font-family", "'Open Sans', sans-serif")
    .attr("font-size", 46)
    .text(panelLetters[k]);

  // species label
  var lab = g.append("text")
    .attr("transform", "translate(519," + (top + p.labelDy) + ") scale(1.3,1)")
    .style("font-family", "'Open Sans', sans-serif")
    .attr("font-size", 52)
    .attr("fill", speciesColor[k])
    .text(species[k]);
  lab.append("tspan")
    .attr("dx", 2).attr("dy", -19)
    .attr("font-size", 27)
    .text(charges[k]);
});

// axis titles
var xt = svg.append("text")
  .attr("x", 609).attr("y", 1217)
  .attr("text-anchor", "middle")
  .attr("font-size", 43)
  .text("wavenumber (cm");
xt.append("tspan").attr("dy", -12).attr("font-size", 27).text("-1");
xt.append("tspan").attr("dy", 12).text(")");

svg.append("text")
  .attr("transform", "translate(47,567) rotate(-90)")
  .attr("text-anchor", "middle")
  .attr("font-size", 43)
  .text("Fragmentation yield");
</script>
</body>
</html>
